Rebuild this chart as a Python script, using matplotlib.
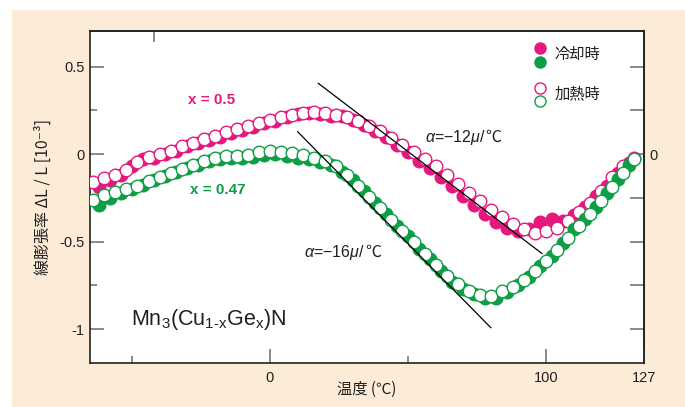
import matplotlib
matplotlib.use("Agg")
import matplotlib.pyplot as plt
import numpy as np
from matplotlib.patches import Rectangle

plt.rcParams['font.family'] = ['Liberation Sans', 'Noto Sans CJK JP', 'DejaVu Sans']
plt.rcParams['mathtext.fontset'] = 'custom'
plt.rcParams['mathtext.rm'] = 'Liberation Sans'
plt.rcParams['mathtext.it'] = 'Liberation Sans:italic'

# temperatures (C)
t_heat = [-64, -60, -56, -52, -48, -44, -40, -36, -32, -28,
          -24, -20, -16, -12, -8, -4, 0, 4, 8, 12,
          16, 20, 24, 28, 32, 36, 40, 44, 48, 52,
          56, 60, 64, 68, 72, 76, 80, 84, 88, 92,
          96, 100, 104, 108, 112, 116, 120, 124, 128, 132]
t_cool = [-62, -58, -54, -50, -46, -42, -38, -34, -30, -26,
          -22, -18, -14, -10, -6, -2, 2, 6, 10, 14,
          18, 22, 26, 30, 34, 38, 42, 46, 50, 54,
          58, 62, 66, 70, 74, 78, 82, 86, 90, 94,
          98, 102, 106, 110, 114, 118, 122, 126, 130]

# x = 0.5
pink_heat = [-0.16, -0.135, -0.12, -0.09, -0.045, -0.015, 0.0, 0.02, 0.045, 0.065,
             0.085, 0.105, 0.125, 0.145, 0.16, 0.18, 0.195, 0.21, 0.225, 0.235,
             0.24, 0.235, 0.225, 0.21, 0.19, 0.16, 0.13, 0.09, 0.05, 0.01,
             -0.03, -0.07, -0.12, -0.17, -0.22, -0.27, -0.32, -0.36, -0.40, -0.43,
             -0.45, -0.44, -0.42, -0.38, -0.33, -0.28, -0.21, -0.13, -0.07, -0.02]
pink_cool = [-0.19, -0.15, -0.12, -0.07, -0.03, -0.02, 0.0, 0.02, 0.045, 0.065,
             0.08, 0.10, 0.12, 0.14, 0.155, 0.175, 0.19, 0.21, 0.23, 0.235,
             0.23, 0.22, 0.215, 0.195, 0.165, 0.13, 0.095, 0.05, 0.01, -0.04,
             -0.08, -0.13, -0.18, -0.24, -0.29, -0.34, -0.39, -0.42, -0.44, -0.43,
             -0.39, -0.37, -0.38, -0.35, -0.30, -0.24, -0.18, -0.11, -0.05]

# x = 0.47
green_heat = [-0.26, -0.235, -0.215, -0.20, -0.18, -0.155, -0.13, -0.11, -0.085, -0.065,
              -0.04, -0.02, -0.01, -0.01, -0.005, 0.01, 0.02, 0.01, 0.005, -0.005,
              -0.02, -0.04, -0.07, -0.12, -0.18, -0.245, -0.31, -0.375, -0.44, -0.50,
              -0.57, -0.635, -0.695, -0.745, -0.785, -0.805, -0.81, -0.785, -0.76, -0.72,
              -0.67, -0.61, -0.55, -0.48, -0.41, -0.34, -0.27, -0.19, -0.11, -0.03]
green_cool = [-0.29, -0.25, -0.225, -0.20, -0.175, -0.15, -0.125, -0.10, -0.08, -0.06,
              -0.04, -0.03, -0.02, -0.02, -0.015, -0.005, 0.0, -0.01, -0.02, -0.03,
              -0.045, -0.065, -0.10, -0.15, -0.21, -0.28, -0.345, -0.41, -0.47, -0.54,
              -0.60, -0.67, -0.73, -0.77, -0.80, -0.82, -0.82, -0.79, -0.75, -0.70,
              -0.64, -0.58, -0.51, -0.43, -0.37, -0.30, -0.22, -0.14, -0.06]

# linear fits: alpha in 1e-6 /C, plotted in units of 1e-3
alpha_pink = -12
alpha_green = -16
fit_range_pink = [17.5, 98.5]
fit_range_green = [10, 80]
fit_icpt_pink = 0.614
fit_icpt_green = 0.288

pink = '#e5197d'
green = '#0d9f45'
tick_col = '#777777'
txt_col = '#231f20'
cjk = ['Noto Sans CJK JP', 'DejaVu Sans']

fig = plt.figure(figsize=(6.85, 4.07), dpi=100, facecolor='white')
bg = Rectangle((12 / 685, 0), 1, 1 - 10 / 407, transform=fig.transFigure,
               facecolor='#fcecd7', edgecolor='none', zorder=-10)
fig.patches.append(bg)
ax = fig.add_axes([90 / 685, 1 - 363 / 407, 554 / 685, 332 / 407])
ax.set_facecolor('white')

ms = 82
ax.scatter(t_cool, pink_cool, s=ms, color=pink, edgecolors=pink, linewidths=1.0, zorder=3)
ax.scatter(t_heat, pink_heat, s=ms, facecolors='white', edgecolors=pink, linewidths=1.0, zorder=4)
ax.scatter(t_cool, green_cool, s=ms, color=green, edgecolors=green, linewidths=1.0, zorder=5)
ax.scatter(t_heat, green_heat, s=ms, facecolors='white', edgecolors=green, linewidths=1.0, zorder=6)

fp = np.array(fit_range_pink)
fg = np.array(fit_range_green)
ax.plot(fp, fit_icpt_pink + alpha_pink * 1e-3 * fp, color='black', lw=0.9, zorder=7)
ax.plot(fg, fit_icpt_green + alpha_green * 1e-3 * fg, color='black', lw=0.9, zorder=7)

ax.set_xlim(-65.2, 135.5)
ax.set_ylim(-1.194, 0.703)

ax.set_xticks([0, 100, 135.5])
ax.set_xticklabels(['0', '100', '127'])
ax.set_xticks([-50, 50], minor=True)
ax.set_yticks([0.5, 0, -0.5, -1])
ax.set_yticklabels(['0.5', '0', '-0.5', '-1'])
ax.set_yticks([0.25, -0.25, -0.75], minor=True)
ax.tick_params(axis='both', which='major', direction='in', length=10, width=1.2,
               color=tick_col, labelsize=10.5, labelcolor=txt_col)
ax.tick_params(axis='both', which='minor', direction='in', length=5, width=1.2, color=tick_col)
ax.tick_params(axis='x', which='major', pad=6)
ax.tick_params(axis='y', which='major', pad=4)

sec_y = ax.secondary_yaxis('right')
sec_y.set_yticks([0.5, 0.25, 0, -0.25, -0.5, -0.75, -1])
sec_y.set_yticklabels(['', '', '0', '', '', '', ''])
sec_y.tick_params(direction='in', length=10, width=1.2, color=tick_col, labelsize=10.5,
                  labelcolor=txt_col, pad=4)
sec_x = ax.secondary_xaxis('top')
sec_x.set_xticks([-42])
sec_x.set_xticklabels([''])
sec_x.tick_params(direction='in', length=8, width=1.2, color=tick_col)

for a in [ax, sec_x, sec_y]:
    for s in a.spines.values():
        s.set_linewidth(1.2)
        s.set_color('#222222')

ax.set_xlabel('温度 (℃)', fontsize=11, color=txt_col, labelpad=-3, family=cjk)
ax.set_ylabel('線膨張率 ΔL / L [10⁻³]', fontsize=11.5, color=txt_col, labelpad=5, family=cjk)

ax.text(-21, 0.31, 'x = 0.5', color=pink, fontsize=11, fontweight='bold', ha='center', va='center')
ax.text(-19, -0.205, 'x = 0.47', color=green, fontsize=11, fontweight='bold', ha='center', va='center')

a1 = ax.text(56, 0.095, r'$\alpha$=−12$\mu$/', color=txt_col, fontsize=11.5, ha='left', va='center')
ax.annotate('℃', xy=(1, 0.5), xycoords=a1, xytext=(0, 0), textcoords='offset points',
            ha='left', va='center', fontsize=11.5, color=txt_col, family=cjk)
a2 = ax.text(12.5, -0.56, r'$\alpha$=−16$\mu$/', color=txt_col, fontsize=11.5, ha='left', va='center')
ax.annotate('℃', xy=(1, 0.5), xycoords=a2, xytext=(0, 0), textcoords='offset points',
            ha='left', va='center', fontsize=11.5, color=txt_col, family=cjk)

ax.text(-50.5, -0.945, r'$\mathregular{Mn_3(Cu_{1‐x}Ge_x)N}$', color=txt_col, fontsize=15.5,
        ha='left', va='center')

# legend
lx = (540 - 90) / 554
ax.scatter([lx], [1 - (48 - 31) / 332], s=64, color=pink, transform=ax.transAxes, zorder=8, clip_on=False)
ax.scatter([lx], [1 - (62 - 31) / 332], s=64, color=green, transform=ax.transAxes, zorder=8, clip_on=False)
ax.scatter([lx], [1 - (88 - 31) / 332], s=64, facecolors='white', edgecolors=pink, linewidths=1.0,
           transform=ax.transAxes, zorder=8)
ax.scatter([lx], [1 - (101 - 31) / 332], s=64, facecolors='white', edgecolors=green, linewidths=1.0,
           transform=ax.transAxes, zorder=8)
ax.text(lx + 0.027, 1 - (55 - 31) / 332, '冷却時', transform=ax.transAxes, fontsize=11,
        color=txt_col, ha='left', va='center', family=cjk)
ax.text(lx + 0.027, 1 - (94 - 31) / 332, '加熱時', transform=ax.transAxes, fontsize=11,
        color=txt_col, ha='left', va='center', family=cjk)

fig.savefig('out.png', dpi=100, facecolor=fig.get_facecolor())
